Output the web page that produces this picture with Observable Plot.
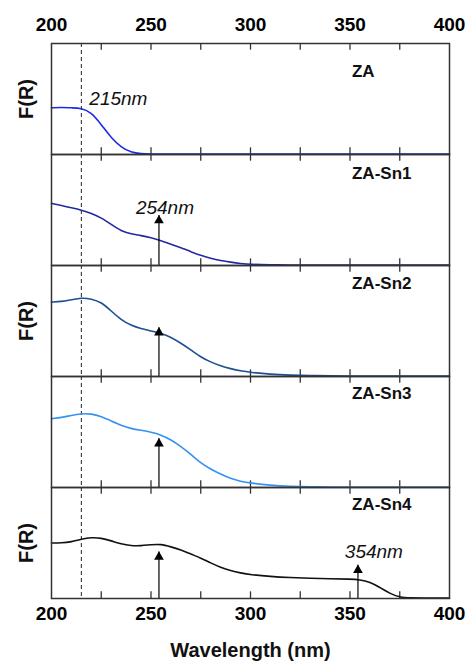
<!DOCTYPE html>
<html><head><meta charset="utf-8">
<script src="https://cdn.jsdelivr.net/npm/d3@7"></script>
<script src="https://cdn.jsdelivr.net/npm/@observablehq/plot@0.6"></script>
<style>
body{margin:0;background:#fff}
svg{font-family:"Liberation Sans",Arial,sans-serif}
g[aria-label="x-axis tick label"]{font-weight:bold}
</style>
</head><body><div id="chart"></div>
<script>
const series = ["ZA","ZA-Sn1","ZA-Sn2","ZA-Sn3","ZA-Sn4"];
const colors = ["#1c2ce6","#2128a2","#1d4f92","#3592f2","#111111"];
const wavelength = [200,205,210,215,220,225,230,235,240,245,250,255,260,265,270,275,280,285,290,295,300,310,320,330,340,350,355,360,365,370,375,380,390,400];
const za  = [0.42,0.425,0.42,0.418,0.38,0.27,0.15,0.065,0.018,0.006,0.004,0.004,0.004,0.004,0.004,0.004,0.004,0.004,0.004,0.004,0.004,0.004,0.004,0.004,0.004,0.004,0.004,0.004,0.004,0.004,0.004,0.004,0.004,0.004];
const sn1 = [0.56,0.54,0.52,0.50,0.47,0.43,0.37,0.31,0.285,0.27,0.25,0.225,0.19,0.16,0.125,0.09,0.065,0.045,0.03,0.018,0.01,0.006,0.005,0.004,0.004,0.004,0.004,0.004,0.004,0.004,0.004,0.004,0.004,0.004];
const sn2 = [0.67,0.675,0.69,0.71,0.70,0.67,0.59,0.51,0.46,0.43,0.41,0.39,0.355,0.30,0.24,0.175,0.13,0.095,0.07,0.05,0.037,0.02,0.012,0.008,0.006,0.005,0.004,0.004,0.004,0.004,0.004,0.004,0.004,0.004];
const sn3 = [0.62,0.63,0.65,0.665,0.665,0.64,0.60,0.56,0.53,0.515,0.50,0.475,0.43,0.37,0.30,0.22,0.165,0.12,0.08,0.055,0.04,0.02,0.01,0.006,0.005,0.005,0.005,0.005,0.005,0.005,0.005,0.005,0.005,0.005];
const sn4 = [0.50,0.50,0.51,0.535,0.55,0.545,0.52,0.49,0.475,0.475,0.485,0.49,0.465,0.44,0.40,0.365,0.32,0.28,0.25,0.23,0.215,0.198,0.188,0.182,0.178,0.175,0.17,0.148,0.10,0.045,0.01,0.005,0.004,0.004];
const seriesValues = [za, sn1, sn2, sn3, sn4];

const majorTicks = [200,250,300,350,400];
const minorTicks = [225,250,275,300,325,350,375];
const edgeNm = [215];

const labelY = [0.75,0.83,0.84,0.85,0.85];
const labelNm = 351;

const arrowSeries = ["ZA-Sn1","ZA-Sn2","ZA-Sn3","ZA-Sn4","ZA-Sn4"];
const arrowNm = [254,254,254,254,354];
const arrowTip = [0.45,0.44,0.44,0.42,0.30];

const edgeText = ["215nm"];
const edgeSeries = ["ZA"];
const edgeF = [0.50];
const peakText = ["254nm","354nm"];
const peakSeries = ["ZA-Sn1","ZA-Sn4"];
const peakNm = [257,362];
const peakF = [0.52,0.42];

const yLabelSeries = ["ZA","ZA-Sn2","ZA-Sn4"];

const rows = [];
series.forEach((s,i) => wavelength.forEach((w,j) => rows.push({series:s, nm:w, f:seriesValues[i][j]})));
const arrows = arrowSeries.map((s,i) => ({series:s, nm:arrowNm[i], tip:arrowTip[i]}));
const edgeAnn = edgeText.map((t,i) => ({text:t, series:edgeSeries[i], nm:edgeNm[i], f:edgeF[i]}));
const peakAnn = peakText.map((t,i) => ({text:t, series:peakSeries[i], nm:peakNm[i], f:peakF[i]}));
const labels = series.map((s,i) => ({series:s, y:labelY[i]}));
const tickLen = 0.06;
const tickRows = [];
series.forEach(s => minorTicks.forEach(t => {
  tickRows.push({series:s, nm:t, lo:0, hi:tickLen});
  tickRows.push({series:s, nm:t, lo:1 - tickLen, hi:1});
}));

const W = 469, H = 662, mt = 42, mb = 64, ml = 51, mr = 20;

const chart = Plot.plot({
  width: W, height: H,
  marginTop: mt, marginBottom: mb, marginLeft: ml, marginRight: mr,
  x: {domain: [200, 400]},
  y: {domain: [0, 1], axis: null},
  fy: {domain: series, axis: null, padding: 0},
  color: {domain: series, range: colors},
  marks: [
    Plot.ruleX(edgeNm, {stroke: "#222", strokeWidth: 1, strokeDasharray: "4,3"}),
    Plot.ruleX(tickRows, {x: "nm", fy: "series", y1: "lo", y2: "hi", stroke: "#333", strokeWidth: 1.3}),
    Plot.line(rows, {x: "nm", y: "f", fy: "series", stroke: "series", strokeWidth: 1.6, curve: "basis"}),
    Plot.ruleX(arrows, {x: "nm", y1: 0, y2: "tip", fy: "series", stroke: "#000", strokeWidth: 1.2}),
    Plot.dot(arrows, {x: "nm", y: "tip", fy: "series", symbol: "triangle", fill: "#000", r: 3.6, dy: 5}),
    Plot.frame({stroke: "#333", strokeWidth: 1.5}),
    Plot.text(labels, {x: () => labelNm, y: "y", fy: "series", text: "series", textAnchor: "start", fontSize: 17, fontWeight: "bold", fill: "#111"}),
    Plot.text(edgeAnn, {x: "nm", y: "f", fy: "series", text: "text", textAnchor: "start", dx: 8, fontSize: 19, fontStyle: "italic", fill: "#111"}),
    Plot.text(peakAnn, {x: "nm", y: "f", fy: "series", text: "text", textAnchor: "middle", fontSize: 19, fontStyle: "italic", fill: "#111"}),
    Plot.text(yLabelSeries, {fy: d => d, text: () => "F(R)", frameAnchor: "left", textAnchor: "middle", dx: -25, rotate: -90, fontSize: 20, fontWeight: "bold", fill: "#111"}),
    Plot.text(["Wavelength (nm)"], {fy: () => "ZA-Sn4", frameAnchor: "bottom", textAnchor: "middle", dy: 58, fontSize: 20, fontWeight: "bold", fill: "#111"}),
    Plot.axisX({anchor: "top", ticks: majorTicks, tickSize: 0, tickPadding: 13, fontSize: 19, fontWeight: "bold", label: null, tickFormat: d => String(d)}),
    Plot.axisX({anchor: "bottom", ticks: majorTicks, tickSize: 0, tickPadding: 8, fontSize: 19, fontWeight: "bold", label: null, tickFormat: d => String(d)})
  ]
});
document.getElementById("chart").append(chart);
</script>
</body></html>
